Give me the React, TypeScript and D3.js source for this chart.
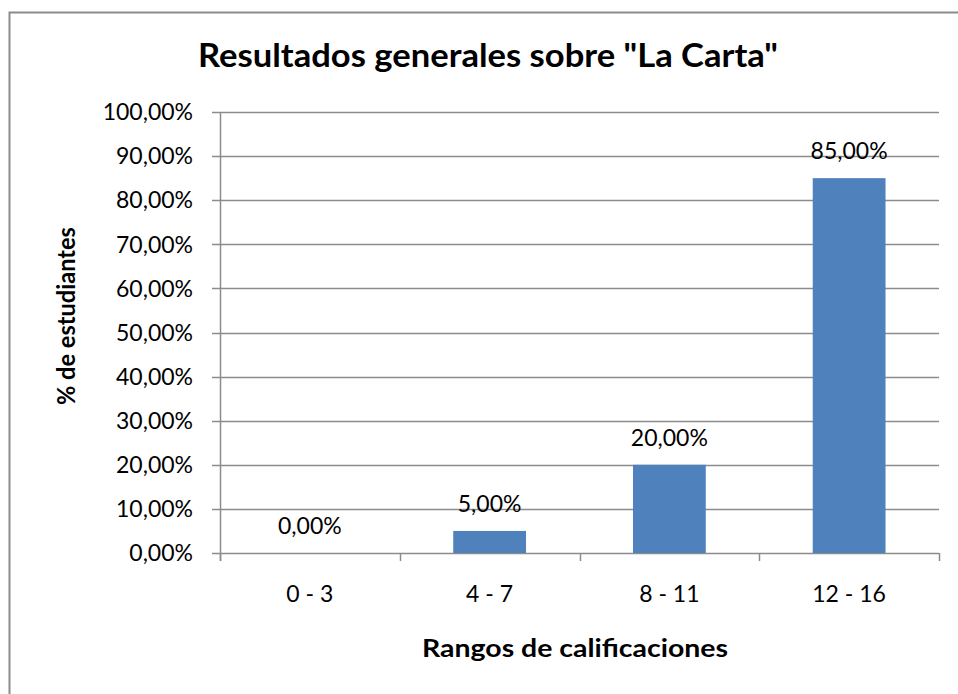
import React from "react";
import * as d3 from "d3";

const categories = ["0 - 3", "4 - 7", "8 - 11", "12 - 16"];
const values = [0, 0.05, 0.2, 0.85];
const yTicks = [0, 0.1, 0.2, 0.3, 0.4, 0.5, 0.6, 0.7, 0.8, 0.9, 1.0];
const title = 'Resultados generales sobre "La Carta"';
const yTitle = "% de estudiantes";
const xTitle = "Rangos de calificaciones";

const W = 958;
const H = 694;
const plot = { left: 220, right: 939, top: 112, bottom: 553 };
const FONT = "Lato, 'Open Sans', sans-serif";
const GRID = "#8c8c8c";
const BAR = "#4F81BD";
const LABEL_SIZE = 23;

const fmt = (v: number) => (v * 100).toFixed(2).replace(".", ",") + "%";

export default function App() {
  const slot = d3.scaleBand<string>().domain(categories).range([plot.left, plot.right]).padding(0);
  const x = d3
    .scaleBand<string>()
    .domain(categories)
    .range([plot.left, plot.right])
    .paddingInner(0.595)
    .paddingOuter(0.2975);
  const y = d3.scaleLinear().domain([0, 1]).range([plot.bottom, plot.top]);
  const boundaries = [...categories.map((c) => slot(c) as number), plot.right];

  return (
    <svg
      width={W}
      height={H}
      style={{ position: "absolute", left: 0, top: 0, background: "#fff" }}
      fontFamily={FONT}
    >
      <rect x={0} y={0} width={W} height={H} fill="#fff" />
      <rect x={9.5} y={12.5} width={1200} height={1200} fill="none" stroke="#8c8c8c" strokeWidth={2} />

      {/* title */}
      <text x={488} y={67} textAnchor="middle" fontSize={32} fontWeight="bold" fill="#000" textLength={580} lengthAdjust="spacingAndGlyphs">
        {title}
      </text>

      {/* gridlines */}
      {yTicks.map((t) => (
        <line key={"g" + t} x1={plot.left - 8} x2={plot.right} y1={Math.round(y(t)) + 0.5} y2={Math.round(y(t)) + 0.5} stroke={GRID} strokeWidth={1.5} />
      ))}
      {/* y axis line */}
      <line x1={plot.left + 0.5} x2={plot.left + 0.5} y1={plot.top} y2={plot.bottom + 8} stroke={GRID} strokeWidth={1.5} />
      {/* x axis ticks */}
      {boundaries.map((b, i) => (
        <line key={"xt" + i} x1={Math.round(b) + 0.5} x2={Math.round(b) + 0.5} y1={plot.bottom} y2={plot.bottom + 8} stroke={GRID} strokeWidth={1.5} />
      ))}

      {/* y tick labels */}
      {yTicks.map((t) => (
        <text key={"yl" + t} x={193} y={y(t)} dy="0.36em" textAnchor="end" fontSize={LABEL_SIZE} fill="#000">
          {fmt(t)}
        </text>
      ))}

      {/* bars */}
      {categories.map((c, i) => (
        <rect key={"b" + c} x={x(c)} y={y(values[i])} width={x.bandwidth()} height={plot.bottom - y(values[i])} fill={BAR} />
      ))}

      {/* data labels */}
      {categories.map((c, i) => (
        <text key={"dl" + c} x={(x(c) as number) + x.bandwidth() / 2} y={y(values[i]) - 19} textAnchor="middle" fontSize={LABEL_SIZE} fill="#000">
          {fmt(values[i])}
        </text>
      ))}

      {/* x tick labels */}
      {categories.map((c) => (
        <text key={"xl" + c} x={(slot(c) as number) + slot.bandwidth() / 2} y={602} textAnchor="middle" fontSize={LABEL_SIZE} fill="#000">
          {c}
        </text>
      ))}

      {/* axis titles */}
      <text x={575} y={657} textAnchor="middle" fontSize={25} fontWeight="bold" fill="#000" textLength={306} lengthAdjust="spacingAndGlyphs">
        {xTitle}
      </text>
      <text transform="translate(75,316) rotate(-90)" textAnchor="middle" fontSize={25} fontWeight="bold" fill="#000" textLength={178} lengthAdjust="spacingAndGlyphs">
        {yTitle}
      </text>
    </svg>
  );
}
